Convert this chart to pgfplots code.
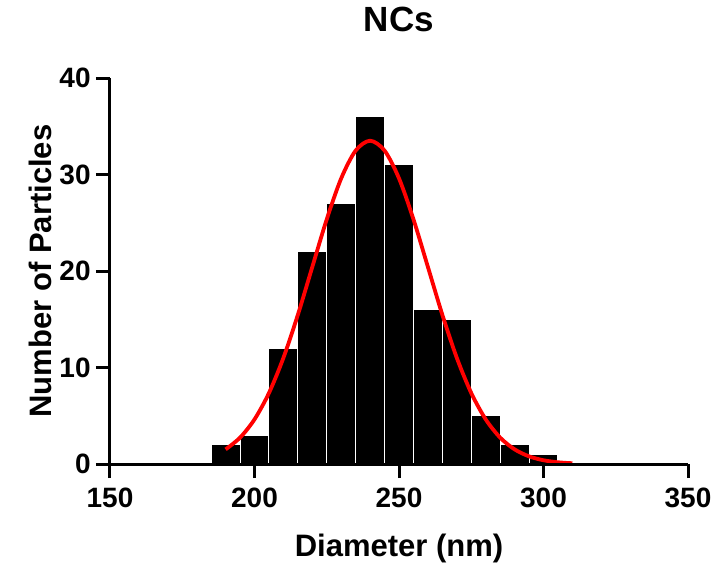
\documentclass[border=0pt]{standalone}
\usepackage{pgfplots}
\pgfplotsset{compat=1.18}
\usepackage{fontspec}
\setmainfont{Liberation Sans}
\begin{document}
\begin{tikzpicture}
\useasboundingbox (-55pt,-55pt) rectangle (303pt,232pt);
\begin{axis}[
 at={(0,0)}, anchor=south west,
 scale only axis, width=289pt, height=193pt,
 xmin=150, xmax=350, ymin=0, ymax=40,
 axis lines=left, axis line style={line width=1.5pt, -},
 xtick={150,200,...,350}, ytick={0,10,...,40},
 tick style={line width=1.5pt, black}, tick align=outside, major tick length=7pt,
 tick label style={font=\fontsize{14}{16}\selectfont\bfseries, inner sep=2.5pt},
 xticklabel style={yshift=-2.5pt},
 /pgf/number format/assume math mode=true,
 xlabel={Diameter (nm)}, ylabel={Number of Particles},
 label style={font=\fontsize{15.5}{18}\selectfont\bfseries},
 xlabel style={at={(axis description cs:0.5,-0.2176)}, anchor=center},
 ylabel style={at={(axis description cs:-0.121,0.5)}, anchor=center},
 title={NCs}, title style={font=\fontsize{17.5}{20}\selectfont\bfseries, at={(axis description cs:0.5,1.12)}, anchor=center},
 axis on top, clip=false,
]
\addplot[ybar, bar width=10, fill=black, draw=white, line width=0.5pt] coordinates {
(190,2) (200,3) (210,12) (220,22) (230,27) (240,36) (250,31) (260,16) (270,15) (280,5) (290,2) (300,1)
};
\addplot[red, line width=1.9pt, smooth] coordinates {
(190,1.518) (195,2.733) (200,4.625) (205,7.356) (210,11.00) (215,15.46) (220,20.42) (225,25.36) (230,29.60) (235,32.48) (240,33.5)
(245,32.48) (250,29.60) (255,25.36) (260,20.42) (265,15.46) (270,11.00) (275,7.356) (280,4.625) (285,2.733) (290,1.518) (295,0.793) (300,0.389) (305,0.180) (310,0.078)
};
\end{axis}
\end{tikzpicture}
\end{document}
